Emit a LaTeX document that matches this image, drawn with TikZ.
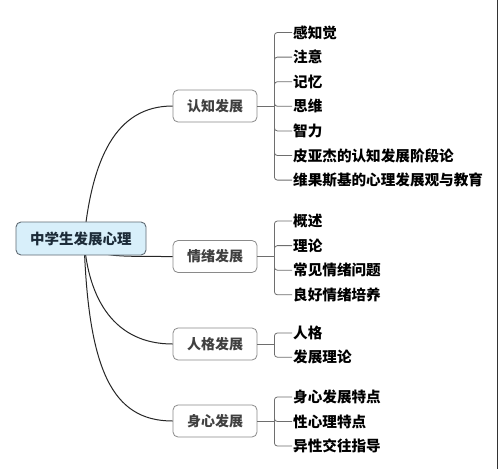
\documentclass[tikz,border=0pt]{standalone}
\usepackage{fontspec}
\setmainfont{Noto Sans CJK SC}
\usetikzlibrary{positioning}
\definecolor{rootfill}{HTML}{D8EFFA}
\definecolor{rootink}{HTML}{1C2B38}
\definecolor{boxline}{HTML}{8A8A8A}
\definecolor{twigline}{HTML}{6E6E6E}

\begin{document}
\begin{tikzpicture}[x=1pt,y=-1pt]
				\tikzstyle{every node}=[font=\fontsize{14}{16}\selectfont]
				\tikzstyle{rootbox}=[draw=rootink!70,fill=rootfill,rounded corners=5pt,line width=0.9pt,
				minimum width=130pt,minimum height=33pt,text=rootink,font=\fontsize{14.5}{16}\selectfont\bfseries]
				\tikzstyle{branchbox}=[draw=boxline,fill=white,rounded corners=5pt,line width=0.8pt,
				minimum width=84pt,minimum height=32pt,text=black!75,font=\fontsize{14}{16}\selectfont\bfseries]
				\tikzstyle{leaf}=[anchor=west,inner sep=1pt,font=\fontsize{14.6}{17}\selectfont\bfseries]
				\tikzstyle{limb}=[draw=black!85,line width=1pt]
				\tikzstyle{twig}=[draw=twigline,line width=0.8pt,rounded corners=3pt]
				\useasboundingbox (0,0) rectangle (499,469);
				\fill[white] (0,0) rectangle (499,469);
				\draw[black!80,line width=1.5pt] (497.5,0) -- (497.5,469);
				\coordinate (hub) at (84,239);
				% branches
				\node[branchbox] (cog) at (215,106) {认知发展};
				\node[branchbox] (emo) at (215,256.5) {情绪发展};
				\node[branchbox] (per) at (215,344) {人格发展};
				\node[branchbox] (phy) at (215,421) {身心发展};
				\draw[limb] (hub) .. controls (92,160) and (115,106) .. (cog.west);
				\draw[limb] (hub) .. controls (100,256.5) .. (emo.west);
				\draw[limb] (hub) .. controls (88,300) and (115,344) .. (per.west);
				\draw[limb] (hub) .. controls (88,370) and (112,421) .. (phy.west);
				\node[rootbox] (root) at (81,238.5) {中学生发展心理};
				% leaves
				\foreach \txt [count=\i] in {感知觉,注意,记忆,思维,智力,皮亚杰的认知发展阶段论,维果斯基的心理发展观与教育}
					\node[leaf] (cog\i) at (292,{32.5+24.6*(\i-1)}) {\txt};
				\foreach \txt [count=\i] in {概述,理论,常见情绪问题,良好情绪培养}
					\node[leaf] (emo\i) at (292,{221+24.6*(\i-1)}) {\txt};
				\foreach \txt [count=\i] in {人格,发展理论}
					\node[leaf] (per\i) at (292,{333+24.2*(\i-1)}) {\txt};
				\foreach \txt [count=\i] in {身心发展特点,性心理特点,异性交往指导}
					\node[leaf] (phy\i) at (292,{397+24.5*(\i-1)}) {\txt};
				% brackets
				\foreach \b/\n in {cog/7,emo/4,per/2,phy/3} {
					\coordinate (\b j) at ([xshift=17pt]\b.east);
					\draw[twig] (\b.east) -- (\b j);
					\foreach \i in {1,...,\n}
						\draw[twig] (\b j) |- (\b\i.west);
				}
\end{tikzpicture}
\end{document}
